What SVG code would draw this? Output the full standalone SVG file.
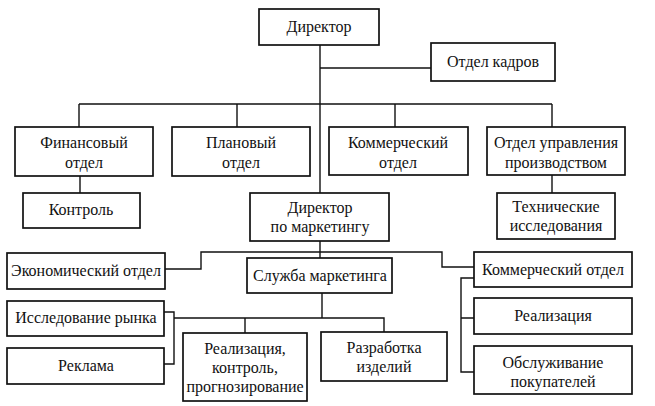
<svg xmlns="http://www.w3.org/2000/svg" width="655" height="406" viewBox="0 0 655 406">
<style>
.b{fill:#fff;stroke:#111;stroke-width:1.7}
.t{font-family:'Liberation Serif','Times New Roman',serif;font-size:16px;fill:#111;text-anchor:middle}
.c{fill:none;stroke:#111;stroke-width:1.4}
</style>
<rect width="655" height="406" fill="#fff"/>
<g id="connectors">
<path class="c" d="M320 45V193"/>
<path class="c" d="M320 68H431"/>
<path class="c" d="M79 104H552M79 104V127M237 104V127M395 104V127M552 104V127"/>
<path class="c" d="M80 176V193"/>
<path class="c" d="M552 175V193"/>
<path class="c" d="M320 241V258"/>
<path class="c" d="M320 252H201V269H165"/>
<path class="c" d="M320 252H442V267H474"/>
<path class="c" d="M322 293V318"/>
<path class="c" d="M174 318H384V332M245 318V333"/>
<path class="c" d="M164 312H174V364H164"/>
<path class="c" d="M474 278H461V372H474M461 318H474"/>
</g>
<g id="n-director"><rect class="b" x="259" y="9" width="120" height="36"/><text class="t" x="319" y="32">Директор</text></g>
<g id="n-kadry"><rect class="b" x="431" y="43" width="124" height="38"/><text class="t" x="493" y="67">Отдел кадров</text></g>
<g id="n-fin"><rect class="b" x="15" y="127" width="138" height="49"/><text class="t" x="84" y="148">Финансовый</text><text class="t" x="84" y="168">отдел</text></g>
<g id="n-plan"><rect class="b" x="172" y="127" width="138" height="49"/><text class="t" x="241" y="148">Плановый</text><text class="t" x="241" y="168">отдел</text></g>
<g id="n-komm"><rect class="b" x="329" y="127" width="139" height="48"/><text class="t" x="398" y="148">Коммерческий</text><text class="t" x="398" y="168">отдел</text></g>
<g id="n-upr"><rect class="b" x="487" y="127" width="138" height="48"/><text class="t" x="556" y="148">Отдел управления</text><text class="t" x="556" y="168">производством</text></g>
<g id="n-kontrol"><rect class="b" x="23" y="193" width="117" height="35"/><text class="t" x="81" y="215">Контроль</text></g>
<g id="n-dirmark"><rect class="b" x="250" y="193" width="139" height="48"/><text class="t" x="320" y="213">Директор</text><text class="t" x="320" y="232">по маркетингу</text></g>
<g id="n-tech"><rect class="b" x="497" y="193" width="118" height="46"/><text class="t" x="556" y="212">Технические</text><text class="t" x="556" y="231">исследования</text></g>
<g id="n-econ"><rect class="b" x="7" y="253" width="158" height="36"/><text class="t" x="86" y="276">Экономический отдел</text></g>
<g id="n-sluzhba"><rect class="b" x="247" y="258" width="145" height="35"/><text class="t" x="320" y="281">Служба маркетинга</text></g>
<g id="n-komm2"><rect class="b" x="474" y="252" width="158" height="35"/><text class="t" x="553" y="275">Коммерческий отдел</text></g>
<g id="n-issl"><rect class="b" x="7" y="301" width="157" height="35"/><text class="t" x="86" y="323">Исследование рынка</text></g>
<g id="n-reklama"><rect class="b" x="7" y="348" width="157" height="36"/><text class="t" x="86" y="371">Реклама</text></g>
<g id="n-realkontr"><rect class="b" x="183" y="333" width="124" height="68"/><text class="t" x="245" y="354">Реализация,</text><text class="t" x="245" y="373">контроль,</text><text class="t" x="245" y="392">прогнозирование</text></g>
<g id="n-razrab"><rect class="b" x="321" y="332" width="126" height="49"/><text class="t" x="384" y="353">Разработка</text><text class="t" x="384" y="372">изделий</text></g>
<g id="n-real"><rect class="b" x="474" y="298" width="158" height="36"/><text class="t" x="553" y="321">Реализация</text></g>
<g id="n-obsl"><rect class="b" x="474" y="346" width="158" height="48"/><text class="t" x="553" y="368">Обслуживание</text><text class="t" x="553" y="387">покупателей</text></g>
</svg>
